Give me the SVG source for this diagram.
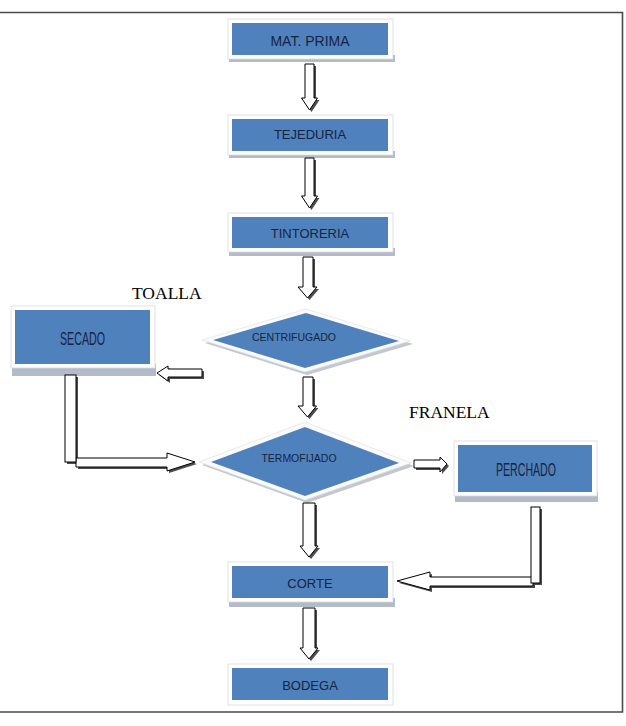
<svg xmlns="http://www.w3.org/2000/svg" width="626" height="726" viewBox="0 0 626 726">
<defs>
<style>
.frame{fill:none;stroke:#4a4a4a;stroke-width:1.6}
.outer{fill:#ffffff;stroke:#d6d9de;stroke-width:0.8}
.strip{fill:#b3bac8}
.edge{fill:#c5c9d0}
.blue{fill:#4f81bd}
.lbl{font-family:"Liberation Sans",Arial,sans-serif;fill:#17243f;text-anchor:middle}
.big{font-family:"Liberation Sans",Arial,sans-serif;fill:#17243f;text-anchor:middle;font-size:18px}
.serif{font-family:"Liberation Serif","Times New Roman",serif;font-size:17.5px;fill:#000}
.arr{fill:#ffffff;stroke:#000;stroke-width:1;stroke-linejoin:miter}
.sh{fill:#4d4d4d}
.dshadow{fill:#c3c7cf}
.dwhite{fill:#fbfbfb;stroke:#e2e4e8;stroke-width:0.8}
</style>
</defs>
<rect width="626" height="726" fill="#ffffff"/>
<path class="frame" d="M0 12.5 H622.5 V712 H0"/>

<g id="mat-prima">
<rect class="strip" x="229" y="55" width="166" height="7"/>
<rect class="outer" x="228" y="19" width="165" height="40"/>
<rect class="blue" x="232" y="23" width="156" height="32"/>
<text class="lbl" x="310" y="46" font-size="14">MAT. PRIMA</text>
</g>

<g id="tejeduria">
<rect class="strip" x="229" y="151" width="166" height="7"/>
<rect class="outer" x="228" y="115" width="165" height="40"/>
<rect class="blue" x="232" y="119" width="156" height="32"/>
<text class="lbl" x="310" y="139" font-size="13">TEJEDURIA</text>
</g>

<g id="tintoreria">
<rect class="strip" x="229" y="248" width="166" height="8"/>
<rect class="outer" x="228" y="213" width="165" height="39"/>
<rect class="blue" x="232" y="217" width="156" height="31"/>
<text class="lbl" x="310" y="237.5" font-size="13">TINTORERIA</text>
</g>

<g id="centrifugado">
<polygon class="dshadow" points="205,343 308,312 413,344 307,375"/>
<polygon class="dwhite" points="202,340 306,309 410,341 305,372"/>
<polygon class="blue" points="213,340 306,313 399,341 305,368"/>
<text class="lbl" x="294" y="341" font-size="10.5">CENTRIFUGADO</text>
</g>

<g id="termofijado">
<polygon class="dshadow" points="202,465 307,425 414,466 307,503"/>
<polygon class="dwhite" points="199,462 305,422 411,463 305,500"/>
<polygon class="blue" points="211,462 305,427 399,463 305,496"/>
<text class="lbl" x="299" y="461.5" font-size="10.5">TERMOFIJADO</text>
</g>

<g id="secado">
<rect class="strip" x="12" y="364" width="144" height="12"/>
<rect class="outer" x="11" y="306" width="144" height="62"/>
<rect class="blue" x="15" y="310" width="135" height="54"/>
<text class="big" x="82.5" y="345" textLength="45" lengthAdjust="spacingAndGlyphs">SECADO</text>
</g>

<g id="perchado">
<rect class="strip" x="455" y="492" width="143" height="10"/>
<rect class="outer" x="454" y="441" width="143" height="55"/>
<rect class="blue" x="458" y="445" width="134" height="47"/>
<text class="big" x="526" y="476" textLength="60" lengthAdjust="spacingAndGlyphs">PERCHADO</text>
</g>

<g id="corte">
<rect class="strip" x="229" y="598" width="166" height="9"/>
<rect class="outer" x="228" y="562" width="165" height="40"/>
<rect class="blue" x="232" y="566" width="156" height="32"/>
<text class="lbl" x="310" y="587.5" font-size="13">CORTE</text>
</g>

<g id="bodega">
<rect class="outer" x="228" y="664" width="165" height="41"/>
<rect class="blue" x="232" y="668" width="156" height="32"/>
<text class="lbl" x="310" y="689.5" font-size="13">BODEGA</text>
</g>

<g id="labels">
<text class="serif" x="132" y="299">TOALLA</text>
<text class="serif" x="409" y="418">FRANELA</text>
</g>

<g id="connectors">
<!-- down arrows -->
<g transform="translate(2,2)" class="sh">
<polygon points="305,64 314,64 314,98 317.5,98 309.5,110 301.5,98 305,98"/>
<polygon points="305,158 314,158 314,196 317.5,196 309.5,208 301.5,196 305,196"/>
<polygon points="303,257 313,257 313,287 317,287 307.5,298 298,287 303,287"/>
<polygon points="303,377 313,377 313,406 316.5,406 307.5,417 298,406 303,406"/>
<polygon points="303,503 315,503 315,546 318,546 309,557 300,546 303,546"/>
<polygon points="303,608 315,608 315,648 318,648 309,659 300,648 303,648"/>
<polygon points="157,373 168,366 168,369 202,369 202,377 168,377 168,381"/>
<polygon points="76,458 167,458 167,453 195,462 167,471 167,467 76,467"/>
<rect x="65" y="375" width="11" height="87"/>
<polygon points="414,460 440,460 440,457 447,464 440,472 440,468 414,468"/>
<polygon points="397,581 430,572 430,577 533,577 533,586 430,586 430,590"/>
<rect x="531" y="507" width="9" height="76"/>
</g>
<polygon class="arr" points="305,64 314,64 314,98 317.5,98 309.5,110 301.5,98 305,98"/>
<polygon class="arr" points="305,158 314,158 314,196 317.5,196 309.5,208 301.5,196 305,196"/>
<polygon class="arr" points="303,257 313,257 313,287 317,287 307.5,298 298,287 303,287"/>
<polygon class="arr" points="303,377 313,377 313,406 316.5,406 307.5,417 298,406 303,406"/>
<polygon class="arr" points="303,503 315,503 315,546 318,546 309,557 300,546 303,546"/>
<polygon class="arr" points="303,608 315,608 315,648 318,648 309,659 300,648 303,648"/>
<polygon class="arr" points="157,373 168,366 168,369 202,369 202,377 168,377 168,381"/>
<polygon class="arr" points="76,458 167,458 167,453 195,462 167,471 167,467 76,467"/>
<rect class="arr" x="65" y="375" width="11" height="87"/>
<polygon class="arr" points="414,460 440,460 440,457 447,464 440,472 440,468 414,468"/>
<polygon class="arr" points="397,581 430,572 430,577 533,577 533,586 430,586 430,590"/>
<rect class="arr" x="531" y="507" width="9" height="76"/>
</g>
</svg>
